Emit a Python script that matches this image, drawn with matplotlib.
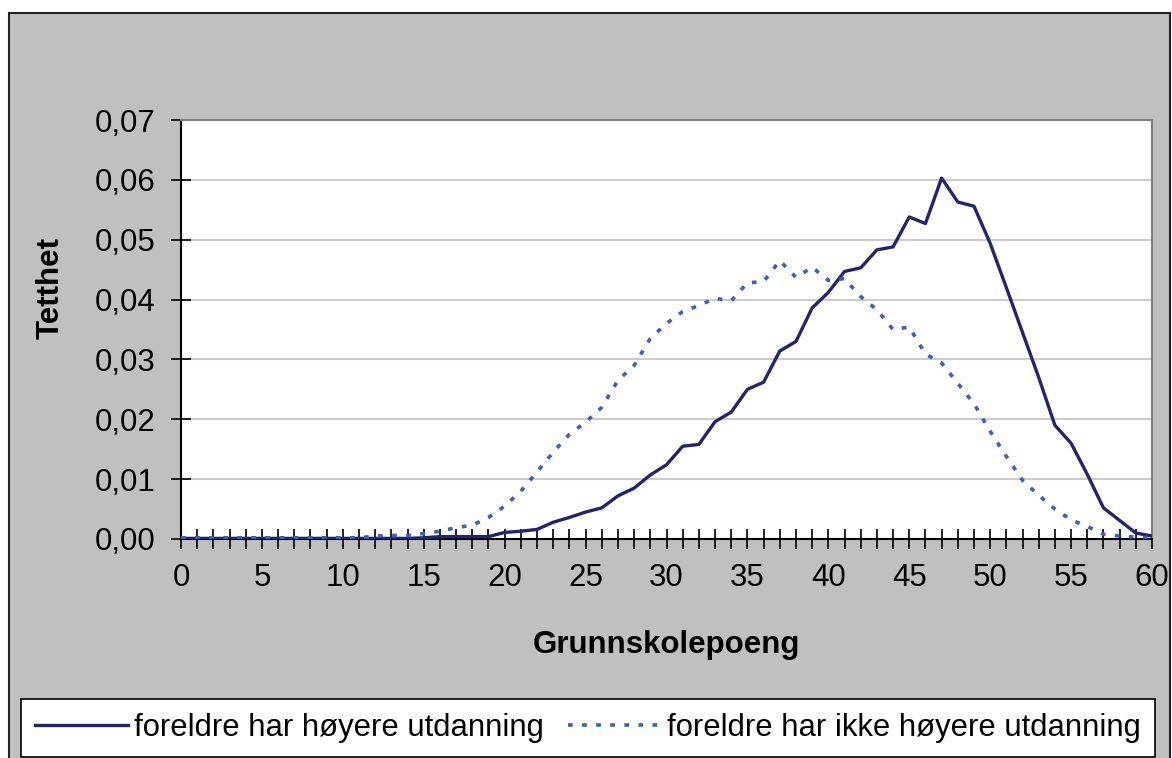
import numpy as np
import matplotlib
matplotlib.use("Agg")
import matplotlib.pyplot as plt
from matplotlib.patches import Rectangle
from matplotlib.ticker import FuncFormatter

plt.rcParams['font.family'] = ['Liberation Sans', 'DejaVu Sans']

# grunnskolepoeng 0..60
poeng = list(range(61))

# foreldre har høyere utdanning
hoy = [0.0001] * 15 + [
    0.0002, 0.0004, 0.0004, 0.0004, 0.0004,          # 15-19
    0.0011, 0.0013, 0.0016, 0.0028, 0.0036,          # 20-24
    0.0045, 0.0052, 0.0072, 0.0085, 0.0107,          # 25-29
    0.0124, 0.0155, 0.0158, 0.0196, 0.0212,          # 30-34
    0.0250, 0.0262, 0.0314, 0.0330, 0.0386,          # 35-39
    0.0412, 0.0447, 0.0453, 0.0483, 0.0488,          # 40-44
    0.0538, 0.0527, 0.0603, 0.0563, 0.0556,          # 45-49
    0.0494, 0.0420, 0.0345, 0.0270, 0.0190,          # 50-54
    0.0160, 0.0108, 0.0052, 0.0031, 0.0010,          # 55-59
    0.0005]                                          # 60

# foreldre har ikke høyere utdanning
ikke = [0.0002] * 12 + [
    0.0005, 0.0006, 0.0006,                          # 12-14
    0.0009, 0.0013, 0.0019, 0.0023, 0.0036,          # 15-19
    0.0055, 0.0080, 0.0112, 0.0145, 0.0175,          # 20-24
    0.0195, 0.0220, 0.0265, 0.0290, 0.0335,          # 25-29
    0.0360, 0.0380, 0.0390, 0.0402, 0.0398,          # 30-34
    0.0428, 0.0430, 0.0465, 0.0437, 0.0454,          # 35-39
    0.0432, 0.0435, 0.0405, 0.0383, 0.0350,          # 40-44
    0.0354, 0.0309, 0.0294, 0.0260, 0.0226,          # 45-49
    0.0180, 0.0138, 0.0098, 0.0073, 0.0050,          # 50-54
    0.0032, 0.0021, 0.0008, 0.0005, 0.0003,          # 55-59
    0.0002]                                          # 60

labels = ["foreldre har høyere utdanning", "foreldre har ikke høyere utdanning"]

W, H = 1172, 758
fig = plt.figure(figsize=(W / 100, H / 100), dpi=100, facecolor='white')

# grey chart area with black frame (behind the axes)
frame = Rectangle((9 / W, -0.01), (1170 - 9) / W, (H - 13) / H + 0.01,
                  transform=fig.transFigure, facecolor='#c0c0c0',
                  edgecolor='#202020', linewidth=1.5, zorder=-10)
fig.add_artist(frame)

ax = fig.add_axes([181 / W, (H - 539) / H, (1152 - 181) / W, (539 - 120) / H])
ax.set_facecolor('white')

ax.plot(poeng, hoy, color='#24246b', lw=2.4, label=labels[0], zorder=3,
        solid_joinstyle='round')
ax.plot(poeng, ikke, color='#3c60b2', lw=2.6, linestyle=(0, (1.3, 2.6)),
        dash_capstyle='butt', label=labels[1], zorder=3)

ax.set_xlim(0, 60)
ax.set_ylim(0, 0.07)
ax.set_xticks(poeng)
ax.set_xticklabels([str(p) if p % 5 == 0 else '' for p in poeng])
ax.set_yticks(np.arange(0, 0.0701, 0.01))
ax.yaxis.set_major_formatter(FuncFormatter(lambda v, _: f"{v:.2f}".replace('.', ',')))
ax.tick_params(axis='both', direction='inout', length=14, width=1.2,
               labelsize=22.5, color='black')
ax.tick_params(axis='x', pad=10)
ax.tick_params(axis='y', pad=11)

ax.grid(axis='y', color='#cccccc', lw=1.5)
ax.set_axisbelow(True)
for s in ['left', 'bottom']:
    ax.spines[s].set_color('black')
    ax.spines[s].set_linewidth(1.5)
for s in ['top', 'right']:
    ax.spines[s].set_color('#808080')
    ax.spines[s].set_linewidth(1.5)

# axis titles placed like in the original chart
fig.text(666 / W, 1 - 645 / H, "Grunnskolepoeng", fontsize=22.5,
         fontweight='bold', ha='center', va='center')
fig.text(51 / W, 1 - 288 / H, "Tetthet", fontsize=22.5, fontweight='bold',
         rotation=90, ha='center', va='center')

leg = fig.legend(loc='lower left', ncol=2, mode='expand',
                 bbox_to_anchor=(21 / W, 1 / H, (1155 - 21) / W, 57 / H),
                 fontsize=22.3, frameon=True, fancybox=False, edgecolor='black',
                 framealpha=1, facecolor='white',
                 handlelength=3.0, handletextpad=0.2, columnspacing=0.6,
                 borderpad=0.45, borderaxespad=0)
leg.get_frame().set_linewidth(1.2)

fig.savefig('out.png', dpi=100, facecolor=fig.get_facecolor())
